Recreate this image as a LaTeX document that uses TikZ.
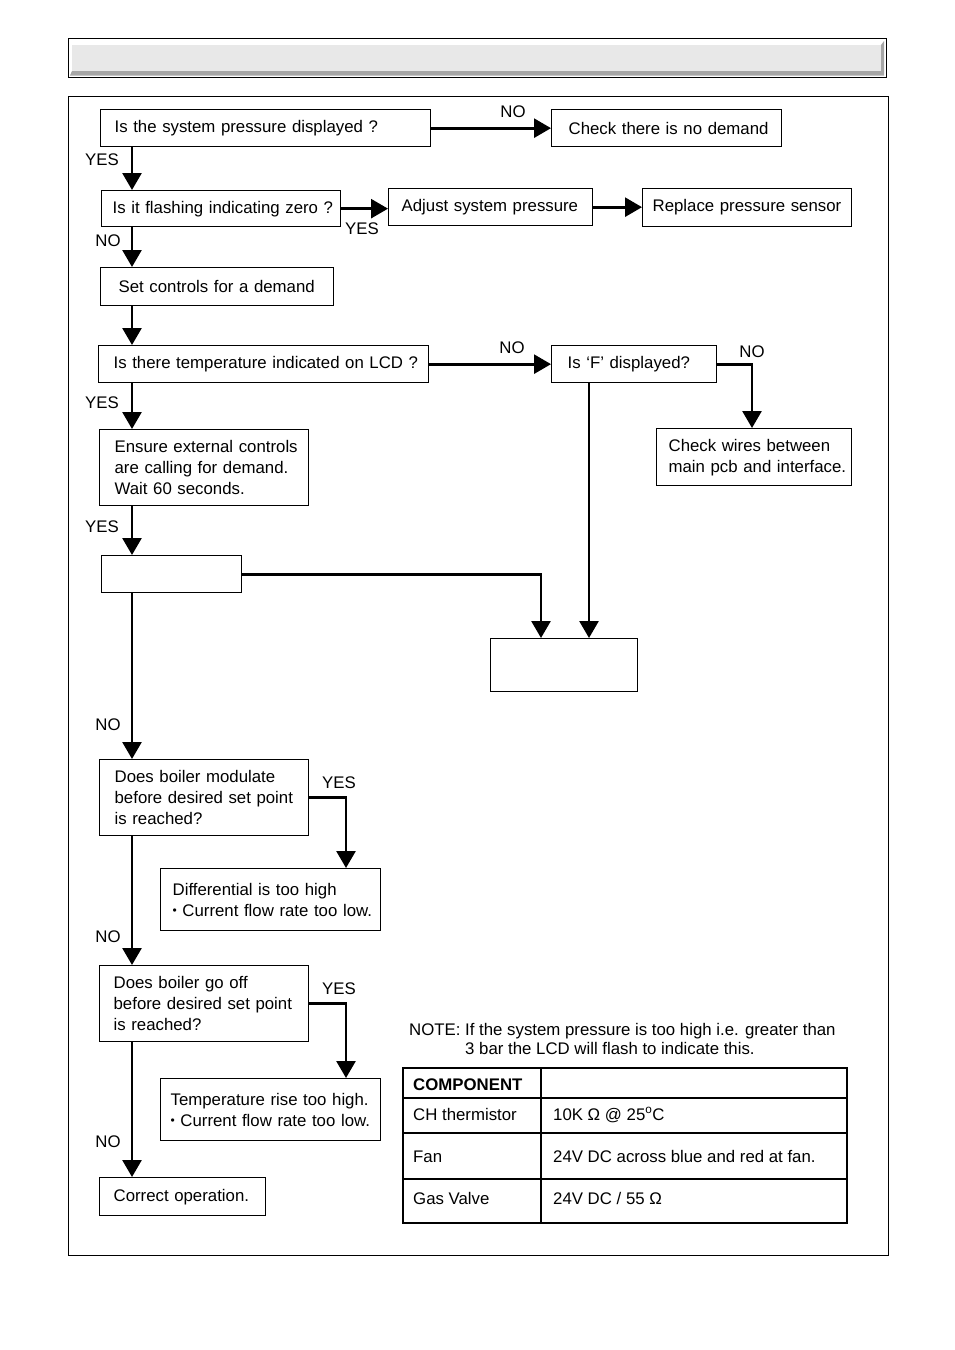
\documentclass[tikz,border=0pt]{standalone}
\usepackage{fontspec}
\setmainfont{Liberation Sans}
\usetikzlibrary{arrows.meta}
\newcommand{\flowfont}{\fontsize{16.8}{21}\selectfont}
\newcommand{\dotmark}{\raisebox{1.6pt}{\fontsize{12}{12}\selectfont •}}

\begin{document}
\begin{tikzpicture}[x=1pt, y=-1pt,
    box/.style={draw, line width=1.3pt, anchor=north west, align=left,
                inner xsep=0pt, inner ysep=0pt, font=\flowfont, text=black},
    pad/.style={execute at begin node={\leftskip=#1\relax}},
    lbl/.style={inner sep=0pt, font=\flowfont},
    cell/.style={anchor=base west, inner sep=0pt, font=\flowfont},
    flow/.style={line width=2.7pt, -{Triangle[width=19pt, length=17pt]}}]
  \useasboundingbox (0,0) rectangle (954,1350);
  % header bar
  \fill[black!35] (70,75.5) -- (72,71) -- (881,71) -- (881,45) -- (884,41) -- (884,75.5) -- cycle;
  \fill[black!9] (72,45) rectangle (881,71);
  \draw[line width=1pt] (68,38) rectangle (886,77);
  % frame
  \draw[line width=0.9pt] (68,96) rectangle (888,1255);

  % x positions of the vertical runs
  \coordinate (spine) at (132,0);
  \coordinate (nofx) at (752,0);
  \coordinate (fx) at (589,0);
  \coordinate (bx) at (541,0);
  \coordinate (yx) at (346,0);

  % boxes
  \node[box, pad=14pt, text width=330pt, minimum height=37pt] (pres) at (100,109) {Is the system pressure displayed ?};
  \node[box, pad=17pt, text width=230pt, minimum height=37pt] (nodem) at (551,109) {Check there is no demand};
  \node[box, pad=11pt, text width=239pt, minimum height=36pt] (zero) at (101,190) {Is it flashing indicating zero ?};
  \node[box, pad=13pt, text width=204pt, minimum height=37pt] (adjust) at (388,188) {Adjust system pressure};
  \node[box, pad=10pt, text width=209pt, minimum height=38pt] (sensor) at (642,188) {Replace pressure sensor};
  \node[box, pad=18pt, text width=233pt, minimum height=38pt] (setc) at (100,267) {Set controls for a demand};
  \node[box, pad=15pt, text width=330pt, minimum height=37pt] (lcd) at (98,345) {Is there temperature indicated on LCD ?};
  \node[box, pad=16pt, text width=165pt, minimum height=37pt] (fdisp) at (551,345) {Is ‘F’ displayed?};
  \node[box, pad=12pt, text width=195pt, minimum height=57pt] (wires) at (656,428) {Check wires between\\main pcb and interface.};
  \node[box, pad=15pt, text width=209pt, minimum height=76pt] (ensure) at (99,429) {Ensure external controls\\are calling for demand.\\Wait 60 seconds.};
  \node[box, minimum width=140pt, minimum height=37pt] (blank1) at (101,555) {};
  \node[box, minimum width=147pt, minimum height=53pt] (blank2) at (490,638) {};
  \node[box, pad=15pt, text width=209pt, minimum height=76pt] (modul) at (99,759) {Does boiler modulate\\before desired set point\\is reached?};
  \node[box, pad=12pt, text width=220pt, minimum height=62pt] (diff) at (160,868) {Differential is too high\\\dotmark\ Current flow rate too low.};
  \node[box, pad=14pt, text width=209pt, minimum height=76pt] (gooff) at (99,965) {Does boiler go off\\before desired set point\\is reached?};
  \node[box, pad=10pt, text width=220pt, minimum height=62pt] (rise) at (160,1078) {Temperature rise too high.\\\dotmark\ Current flow rate too low.};
  \node[box, pad=14pt, text width=166pt, minimum height=38pt] (correct) at (99,1177) {Correct operation.};

  % connectors
  \draw[flow] (pres.east) -- (pres.east -| nodem.west);
  \draw[flow] (pres.south -| spine) -- (zero.north -| spine);
  \draw[flow] (zero.east) -- (zero.east -| adjust.west);
  \draw[flow] (adjust.east) -- (adjust.east -| sensor.west);
  \draw[flow] (zero.south -| spine) -- (setc.north -| spine);
  \draw[flow] (setc.south -| spine) -- (lcd.north -| spine);
  \draw[flow] (lcd.east) -- (lcd.east -| fdisp.west);
  \draw[flow] (fdisp.east) -| (wires.north -| nofx);
  \draw[flow] (fdisp.south -| fx) -- (blank2.north -| fx);
  \draw[flow] (lcd.south -| spine) -- (ensure.north -| spine);
  \draw[flow] (ensure.south -| spine) -- (blank1.north -| spine);
  \draw[flow] (blank1.east) -| (blank2.north -| bx);
  \draw[flow] (blank1.south -| spine) -- (modul.north -| spine);
  \draw[flow] (modul.east) -| (diff.north -| yx);
  \draw[flow] (modul.south -| spine) -- (gooff.north -| spine);
  \draw[flow] (gooff.east) -| (rise.north -| yx);
  \draw[flow] (gooff.south -| spine) -- (correct.north -| spine);

  % labels
  \node[lbl] (l1) at (513,112) {NO};
  \node[lbl] (l2) at (102,160) {YES};
  \node[lbl] (l3) at (362,229) {YES};
  \node[lbl] (l4) at (108,241) {NO};
  \node[lbl] (l5) at (512,348) {NO};
  \node[lbl] (l6) at (752,352) {NO};
  \node[lbl] (l7) at (102,403) {YES};
  \node[lbl] (l8) at (102,527) {YES};
  \node[lbl] (l9) at (108,725) {NO};
  \node[lbl] (l10) at (339,783) {YES};
  \node[lbl] (l11) at (108,937) {NO};
  \node[lbl] (l12) at (339,989) {YES};
  \node[lbl] (l13) at (108,1142) {NO};

  % note and table
  \node[cell] (note1) at (409,1035) {NOTE: If the system pressure is too high i.e. greater than};
  \node[cell] (note2) at (465,1054) {3 bar the LCD will flash to indicate this.};
  \draw[line width=1.2pt] (541,1068) -- (541,1223)
                          (403,1098) -- (847,1098)
                          (403,1133) -- (847,1133)
                          (403,1179) -- (847,1179);
  \draw[line width=2pt] (403,1068) rectangle (847,1223);
  \node[cell, font=\flowfont\bfseries] (comp) at (413,1090) {COMPONENT};
  \node[cell] (ch) at (413,1120) {CH thermistor};
  \node[cell] (chv) at (553,1120) {10K Ω @ 25\textsuperscript{o}C};
  \node[cell] (fan) at (413,1162) {Fan};
  \node[cell] (fanv) at (553,1162) {24V DC across blue and red at fan.};
  \node[cell] (gas) at (413,1204) {Gas Valve};
  \node[cell] (gasv) at (553,1204) {24V DC / 55 Ω};
\end{tikzpicture}
\end{document}
